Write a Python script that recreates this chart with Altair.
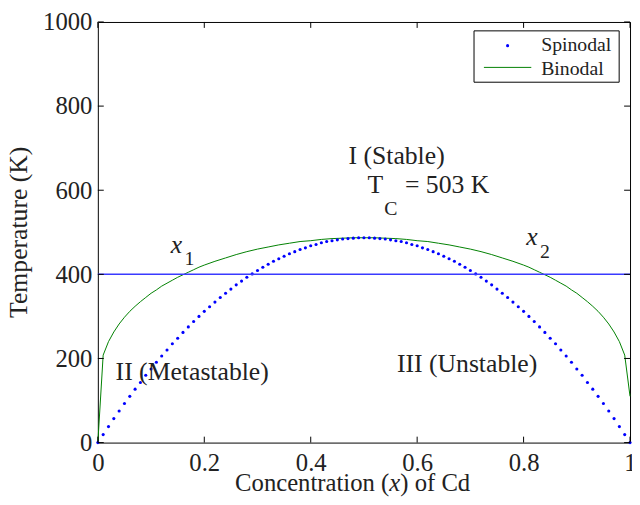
import altair as alt
import pandas as pd

# ---------------- data ----------------
spin_x = [0.00, 0.01, 0.02, 0.03, 0.04, 0.05, 0.06, 0.07, 0.08, 0.09,
          0.10, 0.11, 0.12, 0.13, 0.14, 0.15, 0.16, 0.17, 0.18, 0.19,
          0.20, 0.21, 0.22, 0.23, 0.24, 0.25, 0.26, 0.27, 0.28, 0.29,
          0.30, 0.31, 0.32, 0.33, 0.34, 0.35, 0.36, 0.37, 0.38, 0.39,
          0.40, 0.41, 0.42, 0.43, 0.44, 0.45, 0.46, 0.47, 0.48, 0.49,
          0.50, 0.51, 0.52, 0.53, 0.54, 0.55, 0.56, 0.57, 0.58, 0.59,
          0.60, 0.61, 0.62, 0.63, 0.64, 0.65, 0.66, 0.67, 0.68, 0.69,
          0.70, 0.71, 0.72, 0.73, 0.74, 0.75, 0.76, 0.77, 0.78, 0.79,
          0.80, 0.81, 0.82, 0.83, 0.84, 0.85, 0.86, 0.87, 0.88, 0.89,
          0.90, 0.91, 0.92, 0.93, 0.94, 0.95, 0.96, 0.97, 0.98, 0.99, 1.00]
spin_T = [0, 19, 38, 57, 75, 93, 110, 127, 143, 160,
          175, 191, 206, 220, 235, 248, 262, 275, 288, 300,
          312, 323, 334, 345, 355, 365, 375, 384, 393, 401,
          409, 417, 424, 431, 437, 443, 449, 454, 459, 463,
          468, 471, 475, 478, 480, 482, 484, 485, 486, 487,
          487, 487, 486, 485, 484, 482, 480, 478, 475, 471,
          468, 463, 459, 454, 449, 443, 437, 431, 424, 417,
          409, 401, 393, 384, 375, 365, 355, 345, 334, 323,
          312, 300, 288, 275, 262, 248, 235, 220, 206, 191,
          175, 160, 143, 127, 110, 93, 75, 57, 38, 19, 0]

bin_x = [0.00, 0.01, 0.02, 0.03, 0.04, 0.05, 0.06, 0.07, 0.08, 0.09, 0.10,
         0.11, 0.12, 0.13, 0.14, 0.15, 0.16, 0.17, 0.18, 0.19, 0.20,
         0.22, 0.24, 0.26, 0.28, 0.30, 0.32, 0.34, 0.36, 0.38, 0.40,
         0.42, 0.44, 0.46, 0.48, 0.50, 0.52, 0.54, 0.56, 0.58, 0.60,
         0.62, 0.64, 0.66, 0.68, 0.70, 0.72, 0.74, 0.76, 0.78, 0.80,
         0.81, 0.82, 0.83, 0.84, 0.85, 0.86, 0.87, 0.88, 0.89, 0.90,
         0.91, 0.92, 0.93, 0.94, 0.95, 0.96, 0.97, 0.98, 0.99, 1.00]
bin_T = [0, 208, 240, 263, 282, 298, 312, 324, 335, 345, 355,
         363, 372, 379, 386, 393, 399, 405, 411, 417, 422,
         431, 439, 447, 454, 460, 465, 470, 474, 478, 480,
         483, 485, 486, 487, 487, 487, 486, 485, 483, 480,
         478, 474, 470, 465, 460, 454, 447, 439, 431, 422,
         417, 411, 405, 399, 393, 386, 379, 372, 363, 355,
         345, 335, 324, 312, 298, 282, 263, 240, 208, 110]

T_line = 400

x_ticks = [0, 0.2, 0.4, 0.6, 0.8, 1.0]
y_ticks = [0, 200, 400, 600, 800, 1000]

# annotations (data coordinates)
ann_text = ["I (Stable)", "T", "= 503 K", "II (Metastable)", "III (Unstable)"]
ann_x = [0.471, 0.5065, 0.577, 0.0334, 0.562]
ann_T = [662, 594, 594, 148, 169]

sub_text = ["C", "1", "2"]
sub_x = [0.538, 0.163, 0.831]
sub_T = [540, 422, 439]

ital_text = ["x", "x"]
ital_x = [0.137, 0.805]
ital_T = [451, 469]

# ---------------- layout ----------------
W, H = 539, 426
FONT = "Liberation Serif"
TXT = "#222222"
TL = 6  # tick length

spin = pd.DataFrame({"x": spin_x, "T": spin_T})
binod = pd.DataFrame({"x": bin_x, "T": bin_T})
ann = pd.DataFrame({"x": ann_x, "T": ann_T, "label": ann_text})
sub = pd.DataFrame({"x": sub_x, "T": sub_T, "label": sub_text})
ital = pd.DataFrame({"x": ital_x, "T": ital_T, "label": ital_text})
xt = pd.DataFrame({"x": x_ticks})
yt = pd.DataFrame({"T": y_ticks})
one = pd.DataFrame({"k": [0]})

xs = alt.Scale(domain=[0, 1], nice=False)
ys = alt.Scale(domain=[0, 1000], nice=False)

X = alt.X("x:Q", scale=xs, title=None,
          axis=alt.Axis(values=x_ticks, format="~g", ticks=False, domain=False, grid=False,
                        labelFont=FONT, labelFontSize=25, labelColor=TXT, labelPadding=8,
                        labelFlush=False, labelOverlap=False))
Y = alt.Y("T:Q", scale=ys, title=None,
          axis=alt.Axis(values=y_ticks, format="d", ticks=False, domain=False, grid=False,
                        labelFont=FONT, labelFontSize=25, labelColor=TXT, labelPadding=6,
                        labelFlush=False, labelOverlap=False))

binodal = alt.Chart(binod).mark_line(color="#008000", strokeWidth=1).encode(x=X, y=Y)
spinodal = alt.Chart(spin).mark_circle(color="#0000ff", size=10, opacity=1).encode(x="x:Q", y="T:Q")
hline = alt.Chart(one).mark_rule(color="#3a3aff", strokeWidth=1.5).encode(y=alt.datum(T_line))

tick_b = alt.Chart(xt).mark_rule(color="black", strokeWidth=1).encode(
    x="x:Q", y=alt.value(H), y2=alt.value(H - TL))
tick_t = alt.Chart(xt).mark_rule(color="black", strokeWidth=1).encode(
    x="x:Q", y=alt.value(0), y2=alt.value(TL))
tick_l = alt.Chart(yt).mark_rule(color="black", strokeWidth=1).encode(
    y="T:Q", x=alt.value(0), x2=alt.value(TL))
tick_r = alt.Chart(yt).mark_rule(color="black", strokeWidth=1).encode(
    y="T:Q", x=alt.value(W), x2=alt.value(W - TL))

t_ann = alt.Chart(ann).mark_text(font=FONT, fontSize=26, color=TXT, align="left",
                                 baseline="alphabetic").encode(x="x:Q", y="T:Q", text="label:N")
t_sub = alt.Chart(sub).mark_text(font=FONT, fontSize=20, color=TXT, align="left",
                                 baseline="alphabetic").encode(x="x:Q", y="T:Q", text="label:N")
t_ital = alt.Chart(ital).mark_text(font=FONT, fontSize=26, fontStyle="italic", color=TXT,
                                   align="left", baseline="alphabetic").encode(
    x="x:Q", y="T:Q", text="label:N")

# legend
leg_box = alt.Chart(one).mark_rect(fill="white", stroke="black", strokeWidth=1).encode(
    x=alt.value(381), x2=alt.value(528), y=alt.value(9), y2=alt.value(61))
leg_dot = alt.Chart(one).mark_circle(color="#0000ff", size=10, opacity=1).encode(
    x=alt.value(415), y=alt.value(24))
leg_line = alt.Chart(one).mark_rule(color="#008000", strokeWidth=1).encode(
    x=alt.value(391), x2=alt.value(439), y=alt.value(46))
leg_t1 = alt.Chart(one).mark_text(text="Spinodal", font=FONT, fontSize=20, color=TXT,
                                  align="left", baseline="alphabetic").encode(
    x=alt.value(449), y=alt.value(29))
leg_t2 = alt.Chart(one).mark_text(text="Binodal", font=FONT, fontSize=20, color=TXT,
                                  align="left", baseline="alphabetic").encode(
    x=alt.value(449), y=alt.value(54))

# axis titles
fs = 25
x0 = 139
w1 = 6.249 * fs
w2 = 0.444 * fs
ty = 475
xt1 = alt.Chart(one).mark_text(text="Concentration (", font=FONT, fontSize=fs, color=TXT,
                               align="left", baseline="alphabetic").encode(
    x=alt.value(x0), y=alt.value(ty))
xt2 = alt.Chart(one).mark_text(text="x", font=FONT, fontSize=fs, fontStyle="italic", color=TXT,
                               align="left", baseline="alphabetic").encode(
    x=alt.value(x0 + w1), y=alt.value(ty))
xt3 = alt.Chart(one).mark_text(text=") of Cd", font=FONT, fontSize=fs, color=TXT,
                               align="left", baseline="alphabetic").encode(
    x=alt.value(x0 + w1 + w2), y=alt.value(ty))
yt1 = alt.Chart(one).mark_text(text="Temperature (K)", font=FONT, fontSize=26, color=TXT,
                               align="center", baseline="alphabetic", angle=270).encode(
    x=alt.value(-72), y=alt.value(H / 2))

chart = alt.layer(
    binodal, spinodal, hline, tick_b, tick_t, tick_l, tick_r,
    t_ann, t_sub, t_ital,
    leg_box, leg_dot, leg_line, leg_t1, leg_t2,
    xt1, xt2, xt3, yt1,
).properties(
    width=W, height=H,
    autosize=alt.AutoSizeParams(type="none"),
    padding={"left": 91, "top": 11, "right": 2, "bottom": 56},
    background="white",
).configure_view(stroke="black", strokeWidth=1)

chart.save("out.html", embed_options={"renderer": "svg", "actions": False})
